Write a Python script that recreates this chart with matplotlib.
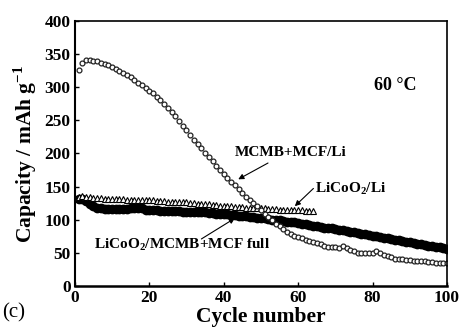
import numpy as np
from matplotlib import pyplot as plt

plt.rcParams['font.family'] = 'Liberation Serif'
plt.rcParams['mathtext.fontset'] = 'custom'
plt.rcParams['mathtext.rm'] = 'Liberation Serif:bold'
plt.rcParams['mathtext.bf'] = 'Liberation Serif:bold'

# MCMB+MCF/Li half cell, cycles 1-100
anode_li = [326, 337, 341, 341, 340, 339, 337, 335, 333, 331,
            328, 325, 322, 319, 315, 311, 307, 303, 299, 295,
            291, 286, 281, 275, 269, 263, 256, 249, 242, 235,
            228, 221, 214, 208, 201, 194, 188, 181, 175, 169,
            163, 157, 152, 146, 141, 135, 130, 125, 120, 114,
            109, 104, 99, 94, 90, 86, 82, 79, 76, 74,
            72, 70, 68, 67, 65, 63, 61, 59, 58, 58,
            57, 61, 57, 54, 52, 50, 50, 49, 49, 50,
            53, 50, 47, 45, 43, 41, 40, 40, 39, 39,
            38, 38, 37, 37, 36, 36, 35, 35, 35, 34]

# LiCoO2/Li half cell, cycles 1-64
cathode_li = [135, 136, 134, 134, 133, 133, 133, 132, 132, 132,
              131, 131, 131, 130, 130, 130, 130, 130, 129, 129,
              129, 128, 128, 128, 127, 127, 127, 126, 126, 126,
              125, 125, 124, 124, 123, 123, 122, 122, 121, 121,
              120, 120, 119, 119, 119, 118, 118, 118, 117, 117,
              117, 116, 116, 116, 115, 115, 115, 114, 114, 114,
              114, 113, 113, 113]

# LiCoO2/MCMB+MCF full cell, cycles 1-100
full_cell = [132, 131, 128, 124, 120, 118, 117, 116, 116, 116,
             116, 116, 116, 116, 117, 117, 118, 117, 115, 114,
             114, 114, 113, 113, 113, 113, 113, 113, 112, 112,
             112, 112, 111, 111, 111, 110, 110, 109, 109, 108,
             108, 107, 107, 106, 106, 105, 104, 104, 103, 102,
             102, 101, 100, 100, 99, 98, 97, 96, 96, 95,
             94, 93, 92, 91, 90, 89, 88, 88, 87, 86,
             85, 84, 83, 82, 81, 80, 79, 78, 77, 76,
             75, 74, 73, 72, 71, 70, 69, 68, 67, 66,
             65, 64, 63, 62, 61, 60, 59, 58, 57, 56]

cyc_a = np.arange(1, len(anode_li) + 1)
cyc_c = np.arange(1, len(cathode_li) + 1)
cyc_f = np.arange(1, len(full_cell) + 1)

fig = plt.figure(figsize=(4.59, 3.29), dpi=100)
ax = fig.add_axes([0.163, 0.131, 0.811, 0.805])

ax.plot(cyc_f, full_cell, 'o', color='black', ms=6, mec='black')
ax.plot(cyc_c, cathode_li, '^', mfc='white', mec='black', ms=5, mew=0.8)
ax.plot(cyc_a, anode_li, 'o', mfc='white', mec='#222222', ms=3.5, mew=0.9)

ax.set_xlim(0, 100)
ax.set_ylim(0, 400)
ax.set_xticks(range(0, 101, 20))
ax.set_yticks(range(0, 401, 50))
ax.tick_params(direction='in', length=3, width=1, labelsize=12.5, pad=3)
for lab in ax.get_xticklabels() + ax.get_yticklabels():
    lab.set_fontweight('bold')
for s in ax.spines.values():
    s.set_linewidth(1.2)
ax.spines['bottom'].set_linewidth(1.8)
ax.spines['left'].set_linewidth(1.5)

ax.set_xlabel('Cycle number', fontsize=15.5, fontweight='bold', labelpad=1)
ax.set_ylabel(r'Capacity / mAh g$^{-1}$', fontsize=15.5, fontweight='bold', labelpad=4)

ax.text(86, 303, '60 °C', fontsize=13, fontweight='bold', ha='center', va='center')

arw = dict(arrowstyle='-|>', color='black', lw=0.8, mutation_scale=8, shrinkA=0, shrinkB=0)
ax.text(58, 202, 'MCMB+MCF/Li', fontsize=11, fontweight='bold', ha='center', va='center')
ax.annotate('', xy=(43.9, 161), xytext=(51.9, 185.6), arrowprops=arw)
ax.text(64.6, 147, r'LiCoO$_2$/Li', fontsize=11, fontweight='bold', ha='left', va='center')
ax.annotate('', xy=(59.1, 120.4), xytext=(64.1, 147.2), arrowprops=arw)
ax.text(28.8, 63, r'LiCoO$_2$/MCMB+MCF full', fontsize=11, fontweight='bold',
        ha='center', va='center')
ax.annotate('', xy=(43.0, 102.2), xytext=(34.0, 70.9), arrowprops=arw)

fig.text(0.005, 0.048, '(c)', fontsize=15, ha='left', va='center')

fig.savefig('out.png', dpi=100)
